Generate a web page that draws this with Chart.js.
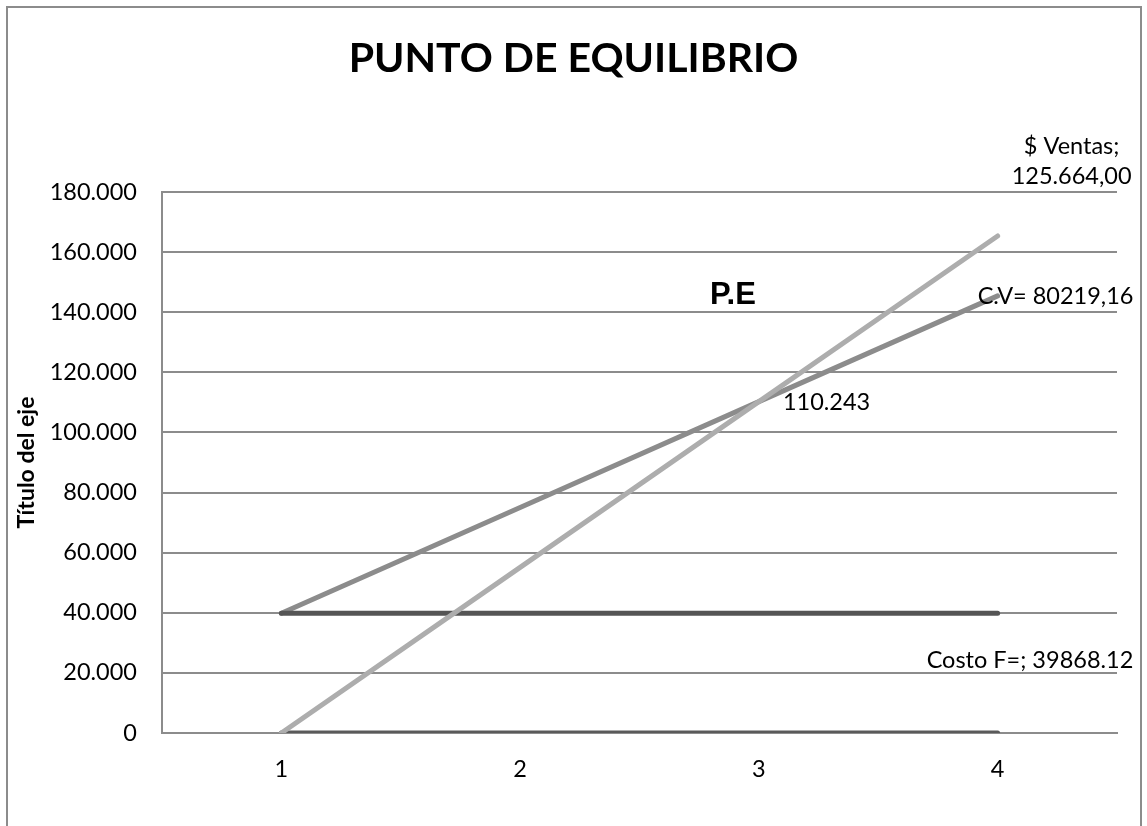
<!DOCTYPE html>
<html>
<head>
<meta charset="utf-8">
<script src="https://cdn.jsdelivr.net/npm/chart.js@4.4.1/dist/chart.umd.min.js"></script>
<style>
    html, body { margin: 0; padding: 0; background: #fff; }
    canvas { display: block; }
</style>
</head>
<body>
<canvas id="myChart" width="1147" height="826"></canvas>
<script>
// data
var categorias = ['1', '2', '3', '4']
var ventas = [0, 55122, 110243, 165365]
var costoVariable = [39868, 75056, 110243, 145431]
var costoFijo = [39868, 39868, 39868, 39868]
var base = [0, 0, 0, 0]

var yMin = 0, yMax = 180000, yStep = 20000

// text labels, placed next to a point of a series
var etiquetas = [
    { text: '$ Ventas;', serie: ventas, idx: 3, dx: 74, dy: -90, align: 'center' },
    { text: '125.664,00', serie: ventas, idx: 3, dx: 74, dy: -60, align: 'center' },
    { text: 'C.V= 80219,16', serie: costoVariable, idx: 3, dx: -20, dy: 1, align: 'left' },
    { text: '110.243', serie: ventas, idx: 2, dx: 24, dy: 1, align: 'left' },
    { text: 'Costo F=; 39868.12', serie: costoFijo, idx: 3, dx: -71, dy: 47, align: 'left' },
    { text: 'P.E', serie: ventas, idx: 2, dx: -49, dy: -106, align: 'left', bold: true }
]

function miles(v) {
    return String(v).replace(/\B(?=(\d{3})+(?!\d))/g, '.')
}

var marco = {
    id: 'marco',
    beforeDraw: function (chart) {
        var ctx = chart.ctx
        ctx.save()
        ctx.strokeStyle = '#8c8c8c'
        ctx.lineWidth = 2
        ctx.strokeRect(7, 7, 1134, 900)
        ctx.restore()
    }
}

var textos = {
    id: 'textos',
    afterDatasetsDraw: function (chart) {
        var ctx = chart.ctx
        var x = chart.scales.x, y = chart.scales.y
        ctx.save()
        ctx.textBaseline = 'middle'
        ctx.fillStyle = '#000'
        etiquetas.forEach(function (e) {
            var px = x.getPixelForValue(e.idx) + e.dx
            var py = y.getPixelForValue(e.serie[e.idx]) + e.dy
            ctx.font = e.bold ? 'bold 31px "Liberation Sans", Arial, sans-serif' : '23.5px Lato, sans-serif'
            ctx.textAlign = e.align
            ctx.fillText(e.text, px, py)
        })
        ctx.restore()
    }
}

var lineas = { borderWidth: 5, pointRadius: 0, borderCapStyle: 'round', tension: 0, fill: false }

var myCharts = document.getElementById('myChart').getContext('2d')
var chart = new Chart(myCharts, {
    type: 'line',
    data: {
        labels: categorias,
        datasets: [
            Object.assign({ label: '$ Ventas', data: ventas, borderColor: '#adadad', order: 1 }, lineas),
            Object.assign({ label: 'C.V', data: costoVariable, borderColor: '#8c8c8c', order: 3 }, lineas),
            Object.assign({ label: 'Costo F', data: costoFijo, borderColor: '#555555', order: 2 }, lineas),
            Object.assign({ label: 'Base', data: base, borderColor: '#5a5a5a', order: 4 }, lineas)
        ]
    },
    options: {
        responsive: false,
        animation: false,
        layout: { padding: { left: 8, right: 8, top: 0, bottom: 33 } },
        plugins: {
            legend: { display: false },
            tooltip: { enabled: false },
            title: {
                display: true,
                text: 'PUNTO DE EQUILIBRIO',
                color: '#000',
                font: { family: 'Lato', size: 41, weight: 'bold', lineHeight: 1.2 },
                padding: { top: 34, bottom: 108.8 }
            }
        },
        scales: {
            x: {
                offset: true,
                grid: { display: false, drawTicks: false },
                border: { display: true, color: '#8c8c8c', width: 2 },
                ticks: { color: '#000', padding: 22, font: { family: 'Lato', size: 23.5 } },
                afterFit: function (s) { s.height = 60 }
            },
            y: {
                min: yMin,
                max: yMax,
                ticks: {
                    stepSize: yStep,
                    color: '#000',
                    padding: 25,
                    font: { family: 'Lato', size: 23.5 },
                    callback: function (v) { return miles(v) }
                },
                grid: { color: '#8c8c8c', lineWidth: 2, drawTicks: false },
                border: { display: true, color: '#8c8c8c', width: 2 },
                title: {
                    display: true,
                    text: 'Título del eje',
                    color: '#000',
                    font: { family: 'Lato', size: 23, weight: 'bold', lineHeight: 1.2 },
                    padding: { top: 5, bottom: 0 }
                },
                afterFit: function (s) { s.width = 154 }
            },
            // empty space on the right, so the title stays centred on the page
            derecha: {
                position: 'right',
                display: true,
                ticks: { display: false },
                grid: { display: false },
                border: { display: false },
                afterFit: function (s) { s.width = 22 }
            }
        }
    },
    plugins: [marco, textos]
})
</script>
</body>
</html>
